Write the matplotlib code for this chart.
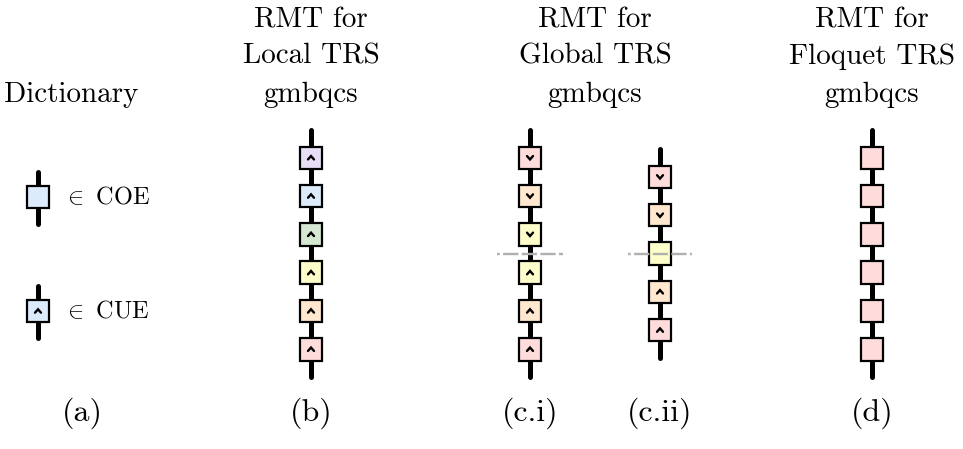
import matplotlib
matplotlib.use("Agg")
import matplotlib.pyplot as plt
from matplotlib.patches import Rectangle

plt.rcParams['font.family'] = ['cmr10', 'DejaVu Serif']
plt.rcParams['mathtext.fontset'] = 'cm'
plt.rcParams['axes.unicode_minus'] = False
plt.rcParams['lines.scale_dashes'] = False

# ---------------- data ----------------
palette = {
    'purple': '#e8def7',
    'blue':   '#dcebfb',
    'green':  '#d5e8d2',
    'yellow': '#fefecb',
    'orange': '#ffe8cf',
    'red':    '#ffdcdc',
}

dict_labels = [r'$\in$ COE', r'$\in$ CUE']
dict_colors = ['blue', 'blue']
dict_arrows = [None, 'up']

local_colors = ['purple', 'blue', 'green', 'yellow', 'orange', 'red']
local_arrows = ['up', 'up', 'up', 'up', 'up', 'up']

global_i_colors = ['red', 'orange', 'yellow', 'yellow', 'orange', 'red']
global_i_arrows = ['down', 'down', 'down', 'up', 'up', 'up']

global_ii_colors = ['red', 'orange', 'yellow', 'orange', 'red']
global_ii_arrows = ['down', 'down', None, 'up', 'up']

floquet_colors = ['red', 'red', 'red', 'red', 'red', 'red']
floquet_arrows = [None, None, None, None, None, None]

header_local = ['RMT for', 'Local TRS', 'gmbqcs']
header_global = ['RMT for', 'Global TRS', 'gmbqcs']
header_floquet = ['RMT for', 'Floquet TRS', 'gmbqcs']
dict_title = 'Dictionary'

panel_labels = ['(a)', '(b)', '(c.i)', '(c.ii)', '(d)']

# ---------------- layout ----------------
W, H = 963, 449
fig = plt.figure(figsize=(W / 100, H / 100), dpi=100)
ax = fig.add_axes([0, 0, 1, 1])
ax.set_xlim(0, W)
ax.set_ylim(H, 0)
ax.axis('off')

SQ = 22.5
PITCH = 38.3
EXT = 28
LINE_LW = 3.6
SQ_LW = 1.6
HEAD_FS = 21
LABEL_FS = 23


def chevron(cx, cy, direction):
    if direction is None:
        return
    w, h = 3.0, 1.7
    s = -1 if direction == 'up' else 1
    ax.plot([cx - w, cx, cx + w], [cy - s * h, cy + s * h, cy - s * h],
            color='black', lw=1.7, solid_capstyle='round',
            solid_joinstyle='miter', zorder=4)


def square(cx, cy, color, direction):
    ax.add_patch(Rectangle((cx - SQ / 2, cy - SQ / 2), SQ, SQ,
                           facecolor=palette[color], edgecolor='black',
                           lw=SQ_LW, zorder=3))
    chevron(cx, cy, direction)


def chain(cx, cy_center, colors, arrows):
    n = len(colors)
    ys = [cy_center + (i - (n - 1) / 2) * PITCH for i in range(n)]
    ax.plot([cx, cx], [ys[0] - EXT, ys[-1] + EXT], color='black',
            lw=LINE_LW, solid_capstyle='round', zorder=2)
    for y, c, a in zip(ys, colors, arrows):
        square(cx, y, c, a)


def dashline(cx, cy, half):
    ax.plot([cx - half, cx + half], [cy, cy], color='#b0b0b0', lw=1.7,
            linestyle=(9.0, (11.0, 2.4)), zorder=5)


MID = 253.5

# dictionary
dict_y = [197, 311]
for y, lab, c, a in zip(dict_y, dict_labels, dict_colors, dict_arrows):
    ax.plot([38, 38], [y - 25, y + 27], color='black', lw=LINE_LW,
            solid_capstyle='round', zorder=2)
    square(38, y, c, a)
    ax.text(63, y + 7, lab, fontsize=17.5, ha='left', va='baseline')

# columns
x_b, x_ci, x_cii, x_d = 311, 530, 660, 872
chain(x_b, MID, local_colors, local_arrows)
chain(x_ci, MID, global_i_colors, global_i_arrows)
chain(x_cii, MID, global_ii_colors, global_ii_arrows)
chain(x_d, MID, floquet_colors, floquet_arrows)
dashline(x_ci, MID, 33)
dashline(x_cii, MID, 32)

# headers
base = [27, 64, 102]
for x, lines in [(x_b, header_local), ((x_ci + x_cii) / 2, header_global),
                 (x_d, header_floquet)]:
    for yb, t in zip(base, lines):
        ax.text(x, yb, t, fontsize=HEAD_FS, ha='center', va='baseline')
ax.text(4, base[2], dict_title, fontsize=HEAD_FS, ha='left', va='baseline')

# panel labels
for x, t in zip([82, x_b, x_ci, x_cii, x_d], panel_labels):
    ax.text(x, 421, t, fontsize=LABEL_FS, ha='center', va='baseline')

fig.savefig('out.png', dpi=100, facecolor='white')
